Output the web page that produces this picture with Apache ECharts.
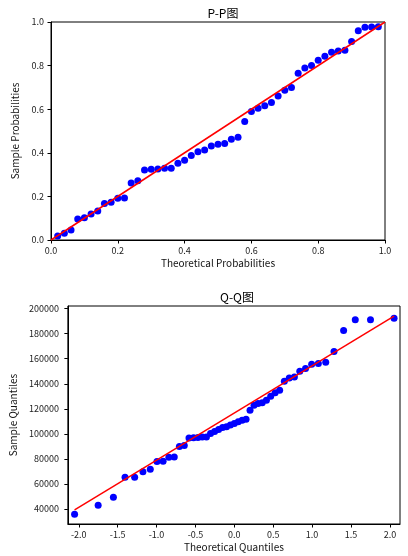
<!DOCTYPE html>
<html><head><meta charset="utf-8">
<script src="https://cdn.jsdelivr.net/npm/echarts@6.0.0/dist/echarts.min.js"></script>
<style>html,body{margin:0;padding:0;background:#fff}#c{width:408px;height:556px}</style>
</head><body><div id="c"></div>
<script>
// P-P plot data
const ppTheoretical = [0.02,0.04,0.06,0.08,0.10,0.12,0.14,0.16,0.18,0.20,0.22,0.24,0.26,0.28,0.30,0.32,0.34,0.36,0.38,0.40,0.42,0.44,0.46,0.48,0.50,0.52,0.54,0.56,0.58,0.60,0.62,0.64,0.66,0.68,0.70,0.72,0.74,0.76,0.78,0.80,0.82,0.84,0.86,0.88,0.90,0.92,0.94,0.96,0.98];
const ppSample = [0.018,0.031,0.046,0.096,0.102,0.119,0.133,0.168,0.173,0.191,0.193,0.261,0.272,0.321,0.324,0.326,0.329,0.329,0.352,0.366,0.388,0.405,0.413,0.431,0.439,0.443,0.462,0.471,0.544,0.589,0.604,0.616,0.631,0.661,0.687,0.700,0.765,0.789,0.801,0.824,0.843,0.861,0.867,0.870,0.911,0.960,0.976,0.977,0.978];
const ppTicks = [0.0,0.2,0.4,0.6,0.8,1.0];
const ppLineX = [0,1];
const ppLineY = [0,1];

// Q-Q plot data
const qqTheoretical = [-2.0537,-1.7507,-1.5548,-1.4051,-1.2816,-1.1750,-1.0803,-0.9945,-0.9154,-0.8416,-0.7722,-0.7063,-0.6433,-0.5828,-0.5244,-0.4677,-0.4125,-0.3585,-0.3055,-0.2533,-0.2019,-0.1510,-0.1004,-0.0502,0,0.0502,0.1004,0.1510,0.2019,0.2533,0.3055,0.3585,0.4125,0.4677,0.5244,0.5828,0.6433,0.7063,0.7722,0.8416,0.9154,0.9945,1.0803,1.1750,1.2816,1.4051,1.5548,1.7507,2.0537];
const qqSample = [35800,42950,49330,65270,65270,69740,71650,77870,78030,81210,81450,89980,90780,96600,96840,97000,97400,97400,100350,101780,103540,105000,105610,106970,108320,109600,110950,111750,118920,122910,124260,124740,126890,130080,132720,134870,142040,144670,145470,150010,152170,155600,156150,157190,165720,182460,191200,191200,192260];
const qqXTicks = [-2.0,-1.5,-1.0,-0.5,0.0,0.5,1.0,1.5,2.0];
const qqYTicks = [40000,60000,80000,100000,120000,140000,160000,180000,200000];
const qqLineX = [-2.0537,2.0537];
const qqLineY = [39200,194100];

const FONT = "'Noto Sans CJK SC', sans-serif";
const zip = (a, b) => a.map((v, i) => [v, b[i]]);

const chart = echarts.init(document.getElementById('c'), null, {renderer: 'canvas'});

function axisCommon(ticks, fmt, margin) {
  return {
    axisLine: {show: true, onZero: false, lineStyle: {color: '#000', width: 1}},
    axisTick: {show: true, inside: false, length: 3.5, lineStyle: {color: '#000', width: 1}, customValues: ticks},
    axisLabel: {show: true, color: '#222', fontFamily: FONT, fontSize: 9, margin: margin, formatter: fmt, customValues: ticks},
    splitLine: {show: false},
    nameTextStyle: {color: '#111', fontFamily: FONT, fontSize: 10},
    nameLocation: 'middle'
  };
}

const option = {
  backgroundColor: '#fff',
  animation: false,
  title: [
    {text: 'P-P图', left: 218, top: 2, textAlign: 'center', textStyle: {fontFamily: FONT, fontSize: 12, fontWeight: 'normal', color: '#000'}},
    {text: 'Q-Q图', left: 232, top: 286, textAlign: 'center', textStyle: {fontFamily: FONT, fontSize: 12, fontWeight: 'normal', color: '#000'}}
  ],
  grid: [
    {left: 51, top: 22, width: 334, height: 218, show: true, borderColor: '#000', borderWidth: 1, backgroundColor: 'transparent'},
    {left: 65, top: 306, width: 335, height: 218, show: true, borderColor: '#000', borderWidth: 1, backgroundColor: 'transparent'}
  ],
  xAxis: [
    Object.assign(axisCommon(ppTicks, v => v.toFixed(1), 6), {type: 'value', gridIndex: 0, min: 0, max: 1, name: 'Theoretical Probabilities', nameGap: 18}),
    Object.assign(axisCommon(qqXTicks, v => v.toFixed(1), 6), {type: 'value', gridIndex: 1, min: -2.14, max: 2.13, name: 'Theoretical Quantiles', nameGap: 18})
  ],
  yAxis: [
    Object.assign(axisCommon(ppTicks, v => v.toFixed(1), 7), {type: 'value', gridIndex: 0, min: 0, max: 1, name: 'Sample Probabilities', nameGap: 24, nameRotate: 90}),
    Object.assign(axisCommon(qqYTicks, v => String(v), 9), {type: 'value', gridIndex: 1, min: 28000, max: 202100, name: 'Sample Quantiles', nameGap: 37, nameRotate: 90})
  ],
  series: [
    {type: 'scatter', xAxisIndex: 0, yAxisIndex: 0, data: zip(ppTheoretical, ppSample), symbolSize: 7, itemStyle: {color: '#0000ff', opacity: 1}, z: 2},
    {type: 'line', xAxisIndex: 0, yAxisIndex: 0, data: zip(ppLineX, ppLineY), symbol: 'none', lineStyle: {color: '#ff0000', width: 1.5}, z: 3},
    {type: 'scatter', xAxisIndex: 1, yAxisIndex: 1, data: zip(qqTheoretical, qqSample), symbolSize: 7, itemStyle: {color: '#0000ff', opacity: 1}, z: 2},
    {type: 'line', xAxisIndex: 1, yAxisIndex: 1, data: zip(qqLineX, qqLineY), symbol: 'none', lineStyle: {color: '#ff0000', width: 1.5}, z: 3}
  ]
};
chart.setOption(option);
</script>
</body></html>
